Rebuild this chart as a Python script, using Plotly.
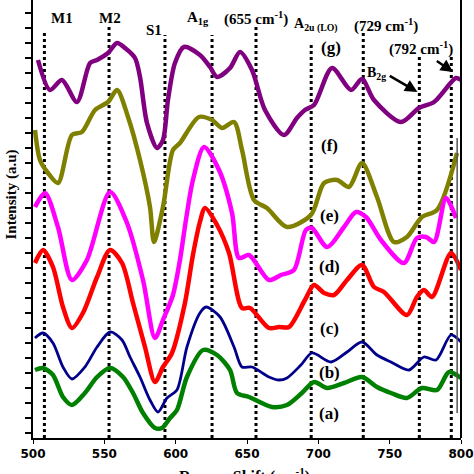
import plotly.graph_objects as go

# ---------------- data (Raman shift in cm-1, intensity in arbitrary units) ----------------
g_x = [503.5,511.9,520.3,530.8,540.0,544.9,552.6,558.9,564.5,571.5,575.0,579.9,586.9,591.1,594.6,599.5,605.8,617.0,624.1,629.0,638.1,645.1,653.5,662.6,675.9,685.0,690.6,697.0,709.6,722.9,730.6,739.0,757.9,770.5,781.1,796.5,800.0]
g_y = [378,348,358,336,375,378,385,395,390,380,361,315,290,298,338,375,391,383,371,361,370,386,368,328,303,320,328,333,370,348,359,338,316,330,336,360,358]

f_x = [501.4,504.9,510.5,517.5,527.3,534.3,543.5,552.6,558.9,566.6,575.0,582.0,584.8,591.1,598.1,603.0,616.3,625.5,632.5,640.9,646.5,654.9,664.0,678.0,694.8,704.0,713.1,721.5,730.6,741.1,753.0,762.1,772.6,783.2,797.2]
f_y = [308,278,265,255,303,306,328,336,348,321,278,231,196,231,288,295,321,318,310,316,288,238,230,211,223,255,258,251,275,241,196,201,221,228,285]

e_x = [501.4,508.4,517.5,527.3,537.8,554.0,565.9,577.1,585.5,591.1,598.1,603.0,607.2,612.1,619.9,630.4,639.5,644.4,651.4,665.4,673.8,682.9,691.3,695.5,706.1,718.0,726.4,733.4,743.9,760.0,769.1,775.5,781.1,789.5,796.5]
e_y = [231,245,211,158,178,246,215,158,100,118,143,178,218,258,291,268,225,180,183,158,163,168,208,210,191,211,226,221,198,175,200,201,196,240,220]

d_x = [501.4,507.0,514.0,521.0,527.3,535.0,544.9,554.0,562.4,570.1,578.5,585.5,591.1,597.4,606.5,612.1,617.0,620.6,629.0,637.4,646.5,652.1,665.4,672.4,679.4,690.6,697.0,704.0,711.0,720.1,730.6,739.0,746.0,762.1,769.1,774.0,779.7,793.0,800.0]
d_y = [175,188,171,131,110,125,161,188,175,135,91,56,71,85,135,183,216,230,213,185,130,130,110,111,111,138,153,145,143,158,173,151,146,123,141,148,141,185,168]

b_x = [501.4,507.0,514.0,521.0,527.3,536.4,544.9,554.0,562.4,568.0,575.0,582.0,587.6,593.9,600.9,607.9,617.0,621.3,631.1,640.9,646.5,653.5,665.4,672.4,678.0,687.8,695.5,708.9,720.1,730.6,741.1,750.9,763.5,774.0,782.5,793.0,800.0]
b_y = [100,105,95,71,59,71,91,106,98,81,61,38,26,40,48,91,125,131,121,91,71,71,61,58,60,73,85,76,86,96,83,76,68,81,78,103,96]

a_x = [501.4,507.0,514.0,521.0,527.3,536.4,544.9,554.0,563.1,570.1,577.1,585.5,590.4,596.0,600.9,607.9,619.2,629.0,638.1,643.0,651.4,667.5,678.0,688.5,697.0,706.1,718.0,730.6,741.1,750.9,762.1,772.6,783.2,791.6,800.0]
a_y = [68,70,63,41,33,45,61,70,61,45,25,10,10,20,28,61,88,83,68,45,41,31,33,45,56,50,55,61,51,45,40,50,48,66,60]

# reference peak positions (dotted lines) and their top heights
peak_pos = [508.0, 553.3, 592.5, 625.5, 656.3, 695.0, 731.5, 770.8, 793.2]
peak_top = [408, 413, 403, 403, 413, 396, 405, 381, 381]

x_ticks = [500, 550, 600, 650, 700, 750, 800]

series = [
    (g_x, g_y, "#800080", 4.5),
    (f_x, f_y, "#808000", 4.5),
    (e_x, e_y, "#ff00ff", 4.5),
    (d_x, d_y, "#ff0000", 4.5),
    (b_x, b_y, "#00008b", 2.8),
    (a_x, a_y, "#008000", 4.5),
]

fig = go.Figure()
for xs, ys, col, w in series:
    fig.add_trace(go.Scatter(x=xs, y=ys, mode="lines",
                             line=dict(color=col, width=w, shape="spline", smoothing=0.8),
                             showlegend=False, hoverinfo="skip"))

shapes = []
for px, top in zip(peak_pos, peak_top):
    shapes.append(dict(type="line", xref="x", yref="y", x0=px, x1=px, y0=0, y1=top,
                       line=dict(color="black", width=3, dash="dot"), layer="below"))
# right frame line
shapes.append(dict(type="line", xref="paper", yref="paper", x0=1, x1=1, y0=0, y1=1,
                   line=dict(color="black", width=2)))
shapes.append(dict(type="line", xref="x", yref="y", x0=797.3, x1=797.3, y0=25, y1=300,
                   line=dict(color="#555555", width=1.5)))
fig.update_layout(shapes=shapes)

serif = "Liberation Serif"
ann = []
def lab(x, y, t, size=15):
    ann.append(dict(x=x, y=y, xref="x", yref="y", text="<b>"+t+"</b>", showarrow=False,
                    font=dict(family=serif, size=size, color="black"),
                    xanchor="center", yanchor="middle"))

lab(520.3, 420, "M1")
lab(554.0, 420, "M2")
lab(584.8, 408, "S1")
lab(615.6, 420, "A<sub>1g</sub>")
lab(656.3, 420, "(655 cm<sup>-1</sup>)")
lab(698.4, 413, "A<sub>2u (LO)</sub>", 14)
lab(747.4, 413, "(729 cm<sup>-1</sup>)")
lab(708.9, 391, "(g)", 17)
lab(772.0, 390, "(792 cm<sup>-1</sup>)")
lab(740.5, 365, "B<sub>2g</sub>", 14)
for y, t in [(293, "(f)"), (223, "(e)"), (172, "(d)"), (110, "(c)"), (66, "(b)"), (25, "(a)")]:
    lab(707.5, y, t, 17)

# arrows
ann.append(dict(x=769.5, y=346, ax=749.0, ay=363, xref="x", yref="y", axref="x", ayref="y",
                text="", showarrow=True, arrowhead=2, arrowsize=1, arrowwidth=2.5, arrowcolor="black"))
ann.append(dict(x=794.5, y=366, ax=782.0, ay=378, xref="x", yref="y", axref="x", ayref="y",
                text="", showarrow=True, arrowhead=2, arrowsize=1, arrowwidth=2.5, arrowcolor="black"))

# axis titles
ann.append(dict(x=-0.05, y=0.555, xref="paper", yref="paper", text="<b>Intensity (a.u)</b>",
                textangle=-90, showarrow=False, font=dict(family=serif, size=15, color="black"),
                xanchor="center", yanchor="middle"))
ann.append(dict(x=0.495, y=-0.058, xref="paper", yref="paper", text="<b>Raman Shift (cm<sup>-1</sup>)</b>",
                showarrow=False, font=dict(family=serif, size=16, color="black"),
                xanchor="center", yanchor="top"))
fig.update_layout(annotations=ann)

fig.update_layout(
    width=474, height=474,
    margin=dict(l=33, r=13, t=0, b=36, autoexpand=False),
    paper_bgcolor="white", plot_bgcolor="white",
    xaxis=dict(range=[500, 800], tickvals=x_ticks, ticktext=[str(v) for v in x_ticks],
               automargin=False,
               showgrid=False, zeroline=False, showline=True, linecolor="black", linewidth=2,
               ticks="outside", ticklen=4, tickcolor="black",
               tickfont=dict(family="DejaVu Sans", size=12, color="black", weight="bold")),
    yaxis=dict(range=[0, 438], showgrid=False, zeroline=False, showline=True, linecolor="black",
               automargin=False,
               linewidth=2, ticks="outside", ticklen=6, tickwidth=1.5, tickcolor="black",
               dtick=15, tick0=5, showticklabels=False),
)

fig.write_html("out.html", config={"displayModeBar": False},
               post_script="document.body.style.margin='0';document.body.style.overflow='hidden';")
